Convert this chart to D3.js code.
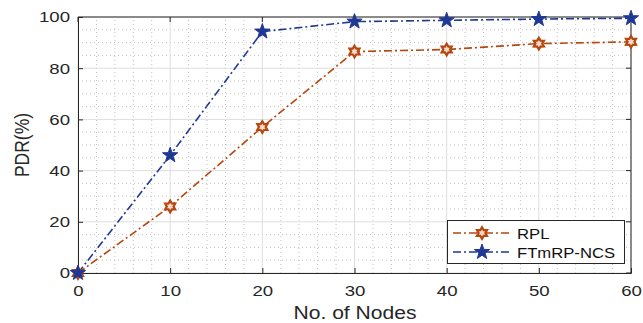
<!DOCTYPE html>
<html>
<head>
<meta charset="utf-8">
<script src="https://cdn.jsdelivr.net/npm/d3@7"></script>
<style>
  html, body { margin: 0; padding: 0; background: #fff; }
  svg { display: block; font-family: "Liberation Sans", Arial, sans-serif; }
</style>
</head>
<body>
<svg id="chart" width="643" height="323"></svg>
<script>
// Packet delivery ratio versus network size
const nodes = [0, 10, 20, 30, 40, 50, 60];
const rpl = [0, 26, 57, 86.5, 87.3, 89.6, 90.3];
const ftmrp = [0, 46, 94.3, 98.2, 98.7, 99.2, 99.5];
const xTicks = [0, 10, 20, 30, 40, 50, 60];
const yTicks = [0, 20, 40, 60, 80, 100];
const seriesNames = ["RPL", "FTmRP-NCS"];

const svg = d3.select("#chart");
const m = { left: 78, right: 12, top: 17, bottom: 50 };
const W = 643, H = 323;
const x = d3.scaleLinear().domain([0, 60]).range([m.left, W - m.right]);
const y = d3.scaleLinear().domain([0, 100]).range([H - m.bottom, m.top]);

const colors = ["#b5470f", "#1f3894"];
const axisColor = "#262626";

// widen glyphs horizontally by factor s
function widen(sel, s) {
  sel.each(function () {
    const len = this.getComputedTextLength();
    d3.select(this).attr("textLength", len * s).attr("lengthAdjust", "spacingAndGlyphs");
  });
}

// minor dotted grid
const g = svg.append("g");
g.selectAll(".mx").data(d3.range(0, 61, 2).filter(v => v % 10 !== 0)).join("line")
  .attr("x1", d => x(d)).attr("x2", d => x(d))
  .attr("y1", y(0)).attr("y2", y(100))
  .attr("stroke", "#c2c2c2").attr("stroke-width", 1).attr("stroke-dasharray", "1,3");
g.selectAll(".my").data(d3.range(0, 101, 5).filter(v => v % 20 !== 0)).join("line")
  .attr("x1", x(0)).attr("x2", x(60))
  .attr("y1", d => y(d)).attr("y2", d => y(d))
  .attr("stroke", "#c2c2c2").attr("stroke-width", 1).attr("stroke-dasharray", "1,3");
// major grid
g.selectAll(".gx").data(xTicks).join("line")
  .attr("x1", d => x(d)).attr("x2", d => x(d))
  .attr("y1", y(0)).attr("y2", y(100))
  .attr("stroke", "#dedede").attr("stroke-width", 1);
g.selectAll(".gy").data(yTicks).join("line")
  .attr("x1", x(0)).attr("x2", x(60))
  .attr("y1", d => y(d)).attr("y2", d => y(d))
  .attr("stroke", "#dedede").attr("stroke-width", 1);

// axes with inward ticks
const xAxis = svg.append("g").attr("transform", `translate(0,${y(0)})`)
  .call(d3.axisBottom(x).tickValues(xTicks).tickSize(-5).tickPadding(12));
const yAxis = svg.append("g").attr("transform", `translate(${x(0)},0)`)
  .call(d3.axisLeft(y).tickValues(yTicks).tickSize(-5).tickPadding(8));
[xAxis, yAxis].forEach(a => {
  a.select(".domain").attr("stroke", axisColor);
  a.selectAll(".tick line").attr("stroke", axisColor);
  a.selectAll("text").attr("fill", axisColor).style("font-size", "15px")
    .style("font-family", "'Liberation Sans', Arial, sans-serif");
  widen(a.selectAll("text"), 1.24);
});
// top and right box edges with ticks
svg.append("line").attr("x1", x(0)).attr("x2", x(60)).attr("y1", y(100)).attr("y2", y(100)).attr("stroke", axisColor);
svg.append("line").attr("x1", x(60)).attr("x2", x(60)).attr("y1", y(0)).attr("y2", y(100)).attr("stroke", axisColor);
svg.selectAll(".tt").data(xTicks).join("line")
  .attr("x1", d => x(d)).attr("x2", d => x(d)).attr("y1", y(100)).attr("y2", y(100) + 5).attr("stroke", axisColor);
svg.selectAll(".tr").data(yTicks).join("line")
  .attr("x1", x(60)).attr("x2", x(60) - 5).attr("y1", d => y(d)).attr("y2", d => y(d)).attr("stroke", axisColor);

// axis titles
const xt = svg.append("text").attr("x", 355).attr("y", 319)
  .attr("text-anchor", "middle").attr("fill", axisColor).style("font-size", "18px").text("No. of Nodes");
widen(xt, 1.17);
svg.append("text").attr("transform", `translate(29,${(y(0) + y(100)) / 2}) rotate(-90) scale(1,1.17)`)
  .attr("text-anchor", "middle").attr("fill", axisColor).style("font-size", "17.5px").text("PDR(%)");

// marker symbols
function starPath(points, rOut, rIn) {
  const pts = [];
  for (let i = 0; i < points * 2; i++) {
    const r = i % 2 === 0 ? rOut : rIn;
    const a = -Math.PI / 2 + i * Math.PI / points;
    pts.push([r * Math.cos(a), r * Math.sin(a)]);
  }
  return "M" + pts.map(p => p.join(",")).join("L") + "Z";
}
const hexagram = starPath(6, 5.8, 3.4);
const pentagram = starPath(5, 8, 3.2);

const dash = "8,3,2,3";
const line = d3.line().x((d, i) => x(nodes[i])).y(d => y(d));
const data = [rpl, ftmrp];

data.forEach((vals, k) => {
  svg.append("path").datum(vals).attr("d", line)
    .attr("fill", "none").attr("stroke", colors[k]).attr("stroke-width", 1.6)
    .attr("stroke-dasharray", dash);
});
data.forEach((vals, k) => {
  svg.selectAll(".mk" + k).data(vals).join("path")
    .attr("transform", (d, i) => `translate(${x(nodes[i])},${y(d)})`)
    .attr("d", k === 0 ? hexagram : pentagram)
    .attr("fill", k === 0 ? "#f3d9c9" : colors[k])
    .attr("stroke", colors[k]).attr("stroke-width", k === 0 ? 2.2 : 1);
});

// legend
const lg = svg.append("g");
lg.append("rect").attr("x", 447.5).attr("y", 220.5).attr("width", 177).attr("height", 43)
  .attr("fill", "#fff").attr("stroke", axisColor).attr("stroke-width", 1);
seriesNames.forEach((name, k) => {
  const cy = 233 + k * 19;
  lg.append("line").attr("x1", 453).attr("x2", 512).attr("y1", cy).attr("y2", cy)
    .attr("stroke", colors[k]).attr("stroke-width", 1.6).attr("stroke-dasharray", dash);
  lg.append("path").attr("transform", `translate(482,${cy})`)
    .attr("d", k === 0 ? hexagram : pentagram)
    .attr("fill", k === 0 ? "#f3d9c9" : colors[k])
    .attr("stroke", colors[k]).attr("stroke-width", k === 0 ? 2.2 : 1);
  const t = lg.append("text").attr("x", 517).attr("y", cy + 5.5).attr("fill", "#111")
    .style("font-size", "15px").text(name);
  widen(t, 1.11);
});
</script>
</body>
</html>
